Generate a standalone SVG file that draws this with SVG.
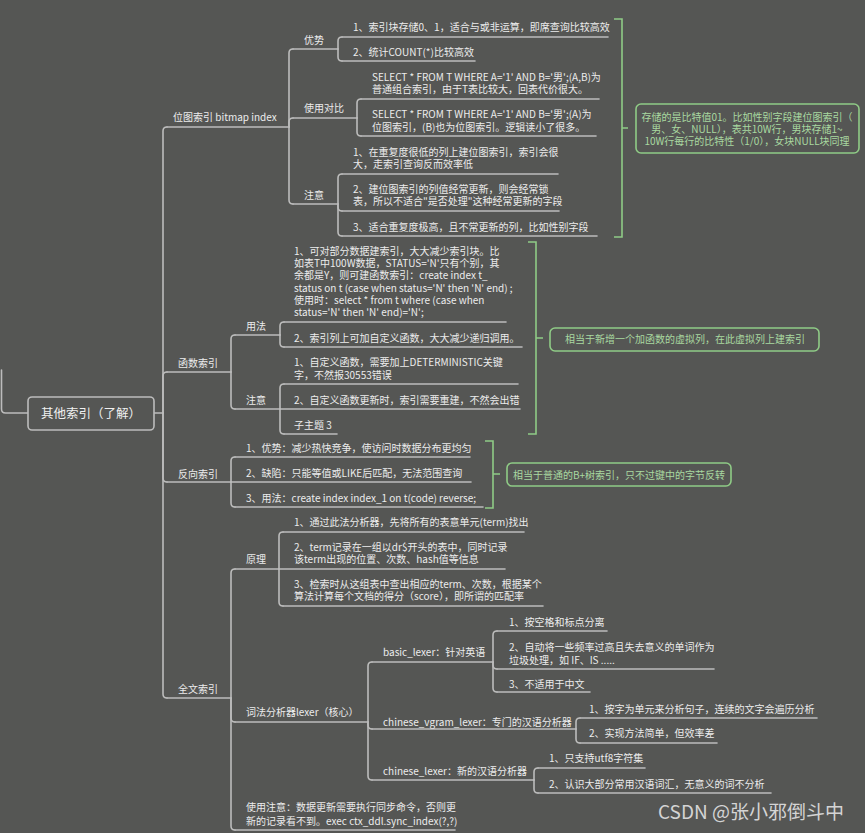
<svg xmlns="http://www.w3.org/2000/svg" width="865" height="833" viewBox="0 0 865 833">
<style>
.ln{fill:none;stroke:#bcbcbc;stroke-width:1.6;stroke-linecap:round}
.gl{fill:none;stroke:#8fcb86;stroke-width:1.6}
.t{font-family:"Noto Sans CJK SC","Noto Sans",sans-serif;font-size:10px;fill:#ececec}
.gt{font-family:"Noto Sans CJK SC","Noto Sans",sans-serif;font-size:10px;fill:#a9d9a0;text-anchor:middle}
.rt{font-family:"Noto Sans CJK SC","Noto Sans",sans-serif;font-size:12.5px;fill:#f0f0f0;text-anchor:middle}
.wm{font-family:"Noto Sans CJK SC","Noto Sans",sans-serif;font-size:19px;fill:#d4d4d4}
</style>
<rect width="865" height="833" fill="#555654"/>

<g id="connectors" class="ln">
  <path d="M1.5,370 V409 Q1.5,413 5.5,413 H28"/>
  <path d="M154,413 H163"/>
  <path d="M163,413 V131 Q163,127 167,127"/>
  <path d="M163,413 V376 Q163,372 167,372"/>
  <path d="M163,413 V478 Q163,482 167,482"/>
  <path d="M163,413 V694 Q163,698 167,698"/>
  <path d="M289,127 V53 Q289,49 293,49"/>
  <path d="M289,127 V122 Q289,118 293,118"/>
  <path d="M289,127 V200 Q289,204 293,204"/>
  <path d="M338,49 V41 Q338,37 342,37"/>
  <path d="M338,49 V57 Q338,61 342,61"/>
  <path d="M357,118 V103 Q357,99 361,99"/>
  <path d="M357,118 V132 Q357,136 361,136"/>
  <path d="M338,204 V178 Q338,174 342,174"/>
  <path d="M338,204 V207 Q338,211 342,211"/>
  <path d="M338,204 V232 Q338,236 342,236"/>
  <path d="M231,372 V339 Q231,335 235,335"/>
  <path d="M231,372 V405 Q231,409 235,409"/>
  <path d="M280,335 V326 Q280,322 284,322"/>
  <path d="M280,335 V343 Q280,347 284,347"/>
  <path d="M280,409 V388 Q280,384 284,384"/>
  <path d="M280,409 V430 Q280,434 284,434"/>
  <path d="M231,482 V461 Q231,457 235,457"/>
  <path d="M231,482 V503 Q231,507 235,507"/>
  <path d="M231,698 V573 Q231,569 235,569"/>
  <path d="M231,698 V718 Q231,722 235,722"/>
  <path d="M231,698 V826 Q231,830 235,830"/>
  <path d="M279,569 V536 Q279,532 283,532"/>
  <path d="M279,569 V602 Q279,606 283,606"/>
  <path d="M368,722 V666 Q368,662 372,662"/>
  <path d="M368,722 V725 Q368,729 372,729"/>
  <path d="M368,722 V776 Q368,780 372,780"/>
  <path d="M493,662 V635 Q493,631 497,631"/>
  <path d="M493,662 V665 Q493,669 497,669"/>
  <path d="M493,662 V688 Q493,692 497,692"/>
  <path d="M576,729 V722 Q576,718 580,718"/>
  <path d="M576,729 V739 Q576,743 580,743"/>
  <path d="M534,780 V772 Q534,768 538,768"/>
  <path d="M534,780 V789 Q534,793 538,793"/>
</g>

<g id="root">
  <rect x="28" y="397" width="126" height="33" rx="4" fill="#555654" stroke="#bcbcbc" stroke-width="1.6"/>
  <text class="rt" x="91" y="418">其他索引（了解）</text>
</g>

<g id="bitmap">
  <path class="ln" d="M167,127 H289"/>
  <text class="t" x="173" y="121">位图索引 bitmap index</text>
</g>
<g id="bm-adv">
  <path class="ln" d="M293,49 H338"/>
  <text class="t" x="304" y="44">优势</text>
</g>
<g id="bm-adv-1">
  <path class="ln" d="M342,37 H608"/>
  <text class="t" x="353" y="31">1、索引块存储0、1，适合与或非运算，即席查询比较高效</text>
</g>
<g id="bm-adv-2">
  <path class="ln" d="M342,61 H475"/>
  <text class="t" x="353" y="56">2、统计COUNT(*)比较高效</text>
</g>
<g id="bm-cmp">
  <path class="ln" d="M293,118 H357"/>
  <text class="t" x="304" y="112">使用对比</text>
</g>
<g id="bm-cmp-1">
  <path class="ln" d="M361,99 H599"/>
  <text class="t" x="372" y="81">SELECT * FROM T WHERE A='1' AND B='男';(A,B)为<tspan x="372" dy="12">普通组合索引，由于T表比较大，回表代价很大。</tspan></text>
</g>
<g id="bm-cmp-2">
  <path class="ln" d="M361,136 H596"/>
  <text class="t" x="372" y="118">SELECT * FROM T WHERE A='1' AND B='男';(A)为<tspan x="372" dy="13">位图索引，(B)也为位图索引。逻辑读小了很多。</tspan></text>
</g>
<g id="bm-note">
  <path class="ln" d="M293,204 H338"/>
  <text class="t" x="304" y="199">注意</text>
</g>
<g id="bm-note-1">
  <path class="ln" d="M342,174 H558"/>
  <text class="t" x="353" y="156">1、在重复度很低的列上建位图索引，索引会很<tspan x="353" dy="12">大，走索引查询反而效率低</tspan></text>
</g>
<g id="bm-note-2">
  <path class="ln" d="M342,211 H559"/>
  <text class="t" x="353" y="193">2、建位图索引的列值经常更新，则会经常锁<tspan x="353" dy="12">表，所以不适合"是否处理"这种经常更新的字段</tspan></text>
</g>
<g id="bm-note-3">
  <path class="ln" d="M342,236 H597"/>
  <text class="t" x="353" y="231">3、适合重复度极高，且不常更新的列，比如性别字段</text>
</g>
<g id="bm-summary">
  <path class="gl" d="M614,19 H622 V237 H614 M622,128 H628"/>
  <rect class="gl" x="636" y="104" width="223" height="49" rx="5"/>
  <text class="gt" x="747" y="121">存储的是比特值01。比如性别字段建位图索引（<tspan x="747" dy="12">男、女、NULL），表共10W行，男块存储1~</tspan><tspan x="747" dy="12">10W行每行的比特性（1/0），女块NULL块同理</tspan></text>
</g>

<g id="func">
  <path class="ln" d="M167,372 H231"/>
  <text class="t" x="178" y="367">函数索引</text>
</g>
<g id="func-use">
  <path class="ln" d="M235,335 H280"/>
  <text class="t" x="246" y="330">用法</text>
</g>
<g id="func-use-1">
  <path class="ln" d="M284,322 H506"/>
  <text class="t" x="294" y="255">1、可对部分数据建索引，大大减少索引块。比<tspan x="294" dy="12.2">如表T中100W数据，STATUS='N'只有个别，其</tspan><tspan x="294" dy="12.2">余都是Y，则可建函数索引：create index t_</tspan><tspan x="294" dy="12.2">status on t (case when status='N' then 'N' end) ;</tspan><tspan x="294" dy="12.2">使用时：select * from t where (case when</tspan><tspan x="294" dy="12.2">status='N' then 'N' end)='N';</tspan></text>
</g>
<g id="func-use-2">
  <path class="ln" d="M284,347 H522"/>
  <text class="t" x="294" y="342">2、索引列上可加自定义函数，大大减少递归调用。</text>
</g>
<g id="func-note">
  <path class="ln" d="M235,409 H280"/>
  <text class="t" x="246" y="404">注意</text>
</g>
<g id="func-note-1">
  <path class="ln" d="M284,384 H518"/>
  <text class="t" x="294" y="366">1、自定义函数，需要加上DETERMINISTIC关键<tspan x="294" dy="13">字，不然报30553错误</tspan></text>
</g>
<g id="func-note-2">
  <path class="ln" d="M280,409 H520"/>
  <text class="t" x="294" y="404">2、自定义函数更新时，索引需要重建，不然会出错</text>
</g>
<g id="func-note-3">
  <path class="ln" d="M284,434 H337"/>
  <text class="t" x="294" y="429">子主题 3</text>
</g>
<g id="func-summary">
  <path class="gl" d="M528,242 H536 V434 H528 M536,338 H543"/>
  <rect class="gl" x="550" y="328" width="269" height="23" rx="5"/>
  <text class="gt" x="685" y="343">相当于新增一个加函数的虚拟列，在此虚拟列上建索引</text>
</g>

<g id="rev">
  <path class="ln" d="M167,482 H231"/>
  <text class="t" x="178" y="478">反向索引</text>
</g>
<g id="rev-1">
  <path class="ln" d="M235,457 H470"/>
  <text class="t" x="246" y="452">1、优势：减少热快竞争，使访问时数据分布更均匀</text>
</g>
<g id="rev-2">
  <path class="ln" d="M231,482 H471"/>
  <text class="t" x="246" y="477">2、缺陷：只能等值或LIKE后匹配，无法范围查询</text>
</g>
<g id="rev-3">
  <path class="ln" d="M235,507 H483"/>
  <text class="t" x="246" y="502">3、用法：create index index_1 on t(code) reverse;</text>
</g>
<g id="rev-summary">
  <path class="gl" d="M485,441 H493 V508 H485 M493,474 H500"/>
  <rect class="gl" x="507" y="463" width="224" height="23" rx="5"/>
  <text class="gt" x="619" y="479">相当于普通的B+树索引，只不过键中的字节反转</text>
</g>

<g id="full">
  <path class="ln" d="M167,698 H231"/>
  <text class="t" x="178" y="693">全文索引</text>
</g>
<g id="full-principle">
  <path class="ln" d="M235,569 H279"/>
  <text class="t" x="246" y="563">原理</text>
</g>
<g id="full-principle-1">
  <path class="ln" d="M283,532 H524"/>
  <text class="t" x="294" y="526">1、通过此法分析器，先将所有的表意单元(term)找出</text>
</g>
<g id="full-principle-2">
  <path class="ln" d="M279,569 H505"/>
  <text class="t" x="294" y="551">2、term记录在一组以dr$开头的表中，同时记录<tspan x="294" dy="12">该term出现的位置、次数、hash值等信息</tspan></text>
</g>
<g id="full-principle-3">
  <path class="ln" d="M283,606 H543"/>
  <text class="t" x="294" y="588">3、检索时从这组表中查出相应的term、次数，根据某个<tspan x="294" dy="12">算法计算每个文档的得分（score），即所谓的匹配率</tspan></text>
</g>
<g id="full-lexer">
  <path class="ln" d="M235,722 H368"/>
  <text class="t" x="246" y="716">词法分析器lexer（核心）</text>
</g>
<g id="basic-lexer">
  <path class="ln" d="M372,662 H493"/>
  <text class="t" x="383" y="656">basic_lexer：针对英语</text>
</g>
<g id="basic-1">
  <path class="ln" d="M497,631 H607"/>
  <text class="t" x="509" y="626">1、按空格和标点分离</text>
</g>
<g id="basic-2">
  <path class="ln" d="M497,669 H714"/>
  <text class="t" x="509" y="651">2、自动将一些频率过高且失去意义的单词作为<tspan x="509" dy="13">垃圾处理，如 IF、IS .....</tspan></text>
</g>
<g id="basic-3">
  <path class="ln" d="M497,692 H590"/>
  <text class="t" x="509" y="688">3、不适用于中文</text>
</g>
<g id="vgram-lexer">
  <path class="ln" d="M372,729 H576"/>
  <text class="t" x="383" y="726">chinese_vgram_lexer：专门的汉语分析器</text>
</g>
<g id="vgram-1">
  <path class="ln" d="M580,718 H817"/>
  <text class="t" x="589" y="713">1、按字为单元来分析句子，连续的文字会遍历分析</text>
</g>
<g id="vgram-2">
  <path class="ln" d="M580,743 H717"/>
  <text class="t" x="589" y="737">2、实现方法简单，但效率差</text>
</g>
<g id="chinese-lexer">
  <path class="ln" d="M372,780 H534"/>
  <text class="t" x="383" y="775">chinese_lexer：新的汉语分析器</text>
</g>
<g id="chinese-1">
  <path class="ln" d="M538,768 H645"/>
  <text class="t" x="549" y="762">1、只支持utf8字符集</text>
</g>
<g id="chinese-2">
  <path class="ln" d="M538,793 H771"/>
  <text class="t" x="549" y="788">2、认识大部分常用汉语词汇，无意义的词不分析</text>
</g>
<g id="full-usage">
  <path class="ln" d="M235,830 H455"/>
  <text class="t" x="246" y="811">使用注意：数据更新需要执行同步命令，否则更<tspan x="246" dy="14">新的记录看不到。exec ctx_ddl.sync_index(?,?)</tspan></text>
</g>

<text class="wm" x="658" y="819">CSDN @张小邪倒斗中</text>
</svg>
